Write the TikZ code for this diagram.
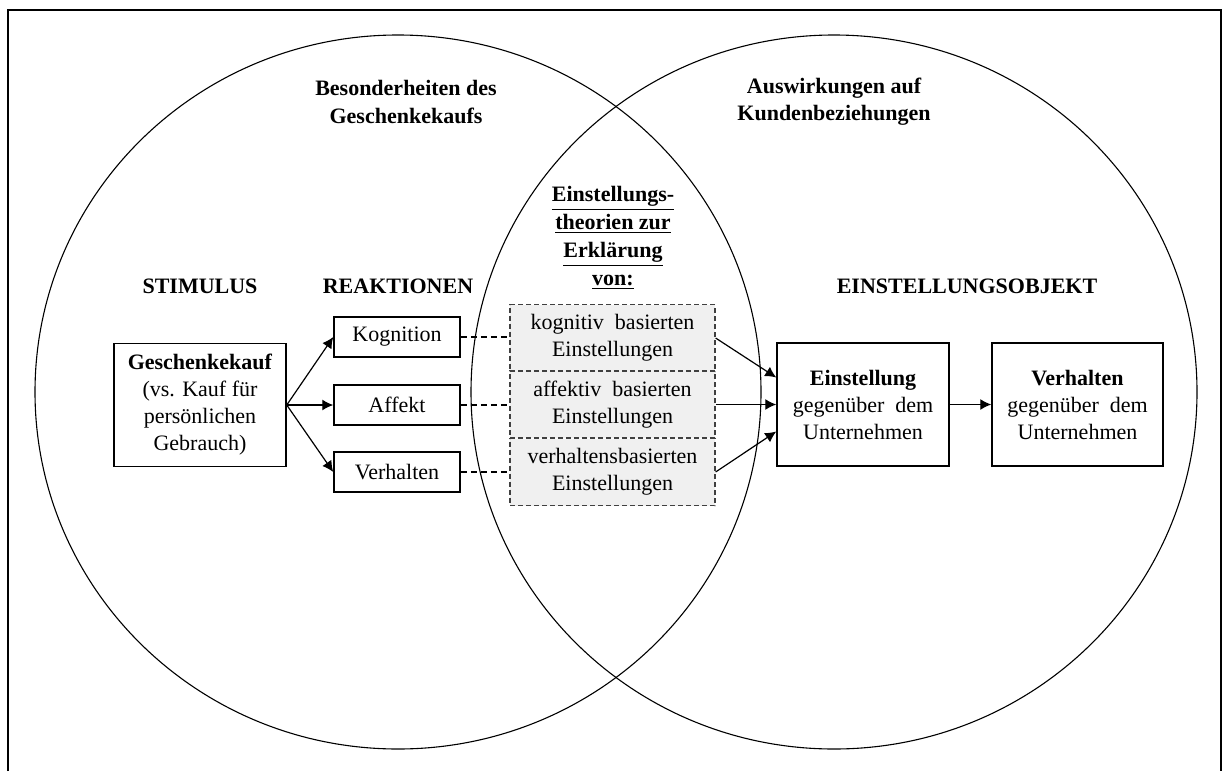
\documentclass[tikz,border=0pt]{standalone}
\usepackage{fontspec}
\setmainfont{Liberation Serif}
\usetikzlibrary{arrows.meta,calc}

\tikzset{
  txt/.style={font=\fontsize{11}{13.5}\selectfont, align=center, inner sep=0pt},
  heading/.style={txt, font=\fontsize{11}{13.5}\selectfont\bfseries},
  solidbox/.style={txt, draw, line width=0.75pt, minimum width=63pt, minimum height=20pt},
  bigbox/.style={txt, draw, line width=0.75pt, minimum width=86pt, minimum height=61.5pt},
  theorybox/.style={txt, draw=black!75, dashed, dash pattern=on 2.5pt off 1.5pt,
    fill=black!6, line width=0.6pt, minimum width=102.5pt, minimum height=33.5pt},
  flow/.style={-{Latex[length=5.5pt,width=5.5pt]}, line width=0.6pt},
  link/.style={dash pattern=on 3pt off 2pt, line width=0.6pt},
  venn/.style={line width=0.55pt}
}

\begin{document}
\begin{tikzpicture}[x=0.5pt, y=-0.5pt]
  \useasboundingbox (0,0) rectangle (1224,771);
  % outer frame, open at the bottom
  \draw[line width=1pt] (8,771) -- (8,10) -- (1221,10) -- (1221,771);

  % the two overlapping areas
  \draw[venn] (398,392) ellipse [x radius=363, y radius=357];
  \draw[venn] (834,392) ellipse [x radius=363, y radius=357];

  % area titles
  \node[heading] (tleft) at (406,102) {Besonderheiten des\\Geschenkekaufs};
  \node[heading] (tright) at (834,102) {Auswirkungen auf\\Kundenbeziehungen};
  \node[heading, font=\fontsize{11}{13.9}\selectfont\bfseries] (tmid) at (613,238)
    {\underline{Einstellungs-}\\\underline{theorien zur}\\\underline{Erklärung}\\\underline{von:}};

  % column headings
  \node[heading] (hstim) at (200,286) {STIMULUS};
  \node[heading] (hreak) at (398,286) {REAKTIONEN};
  \node[heading] (hobj) at (967,286) {EINSTELLUNGSOBJEKT};

  % stimulus
  \node[bigbox] (stim) at (200,405)
    {\textbf{Geschenkekauf}\\(vs. Kauf für\\persönlichen\\Gebrauch)};

  % reactions
  \node[solidbox] (kog) at (397,337) {Kognition};
  \node[solidbox] (aff) at (397,405) {Affekt};
  \node[solidbox] (ver) at (397,472) {Verhalten};

  % attitude theories
  \node[theorybox] (tkog) at (612.5,338) {kognitiv\ \ basierten\\Einstellungen};
  \node[theorybox] (taff) at (612.5,404.5) {affektiv\ \ basierten\\Einstellungen};
  \node[theorybox] (tver) at (612.5,472) {verhaltensbasierten\\Einstellungen};

  % attitude object
  \node[bigbox] (einst) at (863,404.5)
    {\textbf{Einstellung}\\gegenüber\ \ dem\\Unternehmen};
  \node[bigbox, minimum width=85.5pt] (verh) at (1077.5,404.5)
    {\textbf{Verhalten}\\gegenüber\ \ dem\\Unternehmen};

  % stimulus to reactions
  \draw[flow] (stim.east) -- (kog.west);
  \draw[flow] (stim.east) -- (aff.west);
  \draw[flow] (stim.east) -- (ver.west);

  % reactions to theories
  \draw[link] (kog.east) -- (kog.east -| tkog.west);
  \draw[link] (aff.east) -- (aff.east -| taff.west);
  \draw[link] (ver.east) -- (ver.east -| tver.west);

  % theories to attitude
  \draw[flow] (tkog.east) -- ([yshift=13.5pt]einst.west);
  \draw[flow] (taff.east) -- (einst.west);
  \draw[flow] (tver.east) -- ([yshift=-13.5pt]einst.west);

  % attitude to behaviour
  \draw[flow] (einst.east) -- (verh.west);
\end{tikzpicture}
\end{document}
